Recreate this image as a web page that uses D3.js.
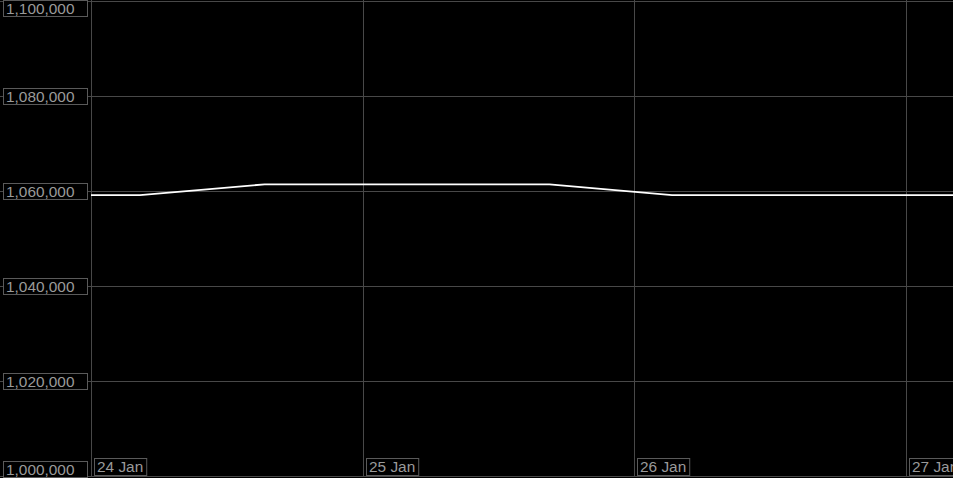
<!DOCTYPE html>
<html>
<head>
<meta charset="utf-8">
<script src="https://cdn.jsdelivr.net/npm/d3@7"></script>
<style>
  html, body { margin: 0; padding: 0; background: #000; overflow: hidden; }
  svg { display: block; }
</style>
</head>
<body>
<script>
const w = 953;
const h = 478;

// line data
const times = ["2024-01-24T00:00", "2024-01-24T04:20", "2024-01-24T15:20", "2024-01-25T16:30", "2024-01-26T03:20", "2024-01-27T04:10"];
const values = [1059150, 1059150, 1061400, 1061400, 1059150, 1059150];

const yTicks = [1000000, 1020000, 1040000, 1060000, 1080000, 1100000];
const xTicks = ["2024-01-24T00:00", "2024-01-25T00:00", "2024-01-26T00:00", "2024-01-27T00:00"];

const gridColor = "#484848";
const labelColor = "#9a9a9a";
const boxColor = "#5a5a5a";
const font = "15.4px 'Liberation Sans', Arial, sans-serif";

const parse = d3.utcParse("%Y-%m-%dT%H:%M");
const data = times.map((t, i) => ({ date: parse(t), value: values[i] }));

const svg = d3.select("body")
  .append("svg")
  .attr("width", w)
  .attr("height", h);

svg.append("rect").attr("width", w).attr("height", h).attr("fill", "#000");

const xScale = d3.scaleUtc()
  .domain([parse("2024-01-24T00:00"), parse("2024-01-27T00:00")])
  .range([91, 906]);

const yScale = d3.scaleLinear()
  .domain([1000000, 1100000])
  .range([476, 1]);

// grid
svg.append("g")
  .selectAll("line")
  .data(yTicks)
  .enter()
  .append("line")
  .attr("x1", 0)
  .attr("x2", w)
  .attr("y1", d => Math.round(yScale(d)) + 0.5)
  .attr("y2", d => Math.round(yScale(d)) + 0.5)
  .attr("stroke", gridColor);

svg.append("g")
  .selectAll("line")
  .data(xTicks)
  .enter()
  .append("line")
  .attr("x1", d => Math.round(xScale(parse(d))) + 0.5)
  .attr("x2", d => Math.round(xScale(parse(d))) + 0.5)
  .attr("y1", 0)
  .attr("y2", Math.round(yScale(1000000)))
  .attr("stroke", gridColor);

// line
const line = d3.line()
  .x(d => xScale(d.date))
  .y(d => yScale(d.value));

svg.append("path")
  .datum(data)
  .attr("d", line)
  .attr("fill", "none")
  .attr("stroke", "#fff")
  .attr("stroke-width", 1.8);

// y labels
const fmt = d3.format(",");
const boxH = 16;
const yLab = svg.append("g")
  .selectAll("g")
  .data(yTicks)
  .enter()
  .append("g")
  .attr("transform", d => {
    let top = Math.round(yScale(d)) - boxH / 2;
    top = Math.max(0, Math.min(h - boxH - 1, top));
    return `translate(3, ${top})`;
  });

yLab.append("rect")
  .attr("x", 0.5)
  .attr("y", 0.5)
  .attr("width", 84)
  .attr("height", boxH)
  .attr("fill", "#000")
  .attr("stroke", boxColor);

yLab.append("text")
  .attr("x", 3)
  .attr("y", boxH / 2 + 1)
  .attr("dy", "0.35em")
  .attr("fill", labelColor)
  .style("font", font)
  .text(d => fmt(d));

// x labels
const dayFmt = d3.utcFormat("%-d %b");
const xLab = svg.append("g")
  .selectAll("g")
  .data(xTicks)
  .enter()
  .append("g")
  .attr("transform", d => `translate(${Math.round(xScale(parse(d))) + 3}, 458)`);

xLab.append("text")
  .attr("x", 3)
  .attr("y", 9)
  .attr("dy", "0.35em")
  .attr("fill", labelColor)
  .style("font", font)
  .text(d => dayFmt(parse(d)));

xLab.insert("rect", "text")
  .attr("x", 0.5)
  .attr("y", 0.5)
  .attr("width", function () {
    return this.parentNode.querySelector("text").getComputedTextLength() + 6;
  })
  .attr("height", 17)
  .attr("fill", "#000")
  .attr("stroke", boxColor);
</script>
</body>
</html>
